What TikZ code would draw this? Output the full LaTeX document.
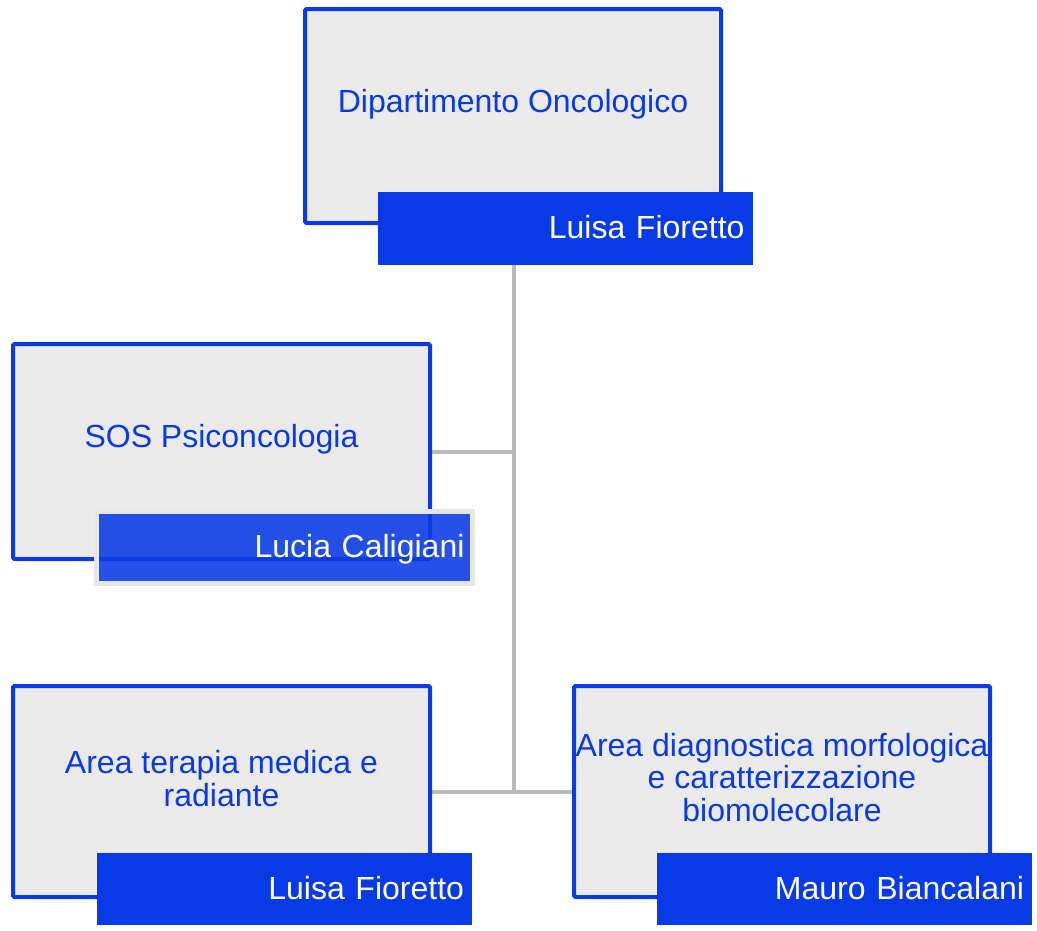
\documentclass[tikz,border=0pt]{standalone}
\usepackage{fontspec}
\setmainfont{Liberation Sans}
\usetikzlibrary{backgrounds}
\definecolor{mblue}{HTML}{0A3AE6}
\definecolor{lblue}{HTML}{083AE7}
\definecolor{boxgrey}{HTML}{EAEAEA}
\definecolor{linegrey}{HTML}{BBBBBB}
\definecolor{edgegrey}{HTML}{E6E6E6}
\begin{document}
\begin{tikzpicture}[x=1pt,y=-1pt,
  unitbox/.style={draw=mblue, fill=boxgrey, line width=4pt, rounded corners=1.5pt,
    inner sep=0pt, minimum width=416pt, minimum height=214pt},
  titletext/.style={text=mblue, font=\fontsize{32}{32.5}\selectfont, align=center,
    inner sep=0pt, anchor=base},
  headlabel/.style={fill=lblue, text=white, font=\fontsize{32}{33}\selectfont,
    inner xsep=8pt, inner ysep=0pt, text width=359pt, align=right,
    minimum height=73pt, text height=21pt, text depth=1pt},
  conn/.style={draw=linegrey, line width=4pt}]
\useasboundingbox (0,0) rectangle (1037,930);

% top unit
\node[unitbox] (dip) at (513,116) {};
\node[titletext] (diptxt) at (513,112) {Dipartimento Oncologico};
\node[headlabel] (dipmgr) at (565,228.5) {Luisa Fioretto};

% SOS Psiconcologia
\node[unitbox, minimum width=417pt, minimum height=215pt] (sos) at (221.5,451.5) {};
\node[titletext] (sostxt) at (221.5,447) {SOS Psiconcologia};
\node[headlabel, fill opacity=0.88, text opacity=1, draw=edgegrey, line width=5pt,
  text width=360pt, minimum height=72pt] (sosmgr) at (284.5,547.5) {Lucia Caligiani};

% Area terapia
\node[unitbox, minimum width=417pt, minimum height=211pt] (atm) at (221.5,791.5) {};
\node[titletext] (atmtxt) at (221.5,806) {Area terapia medica e\\radiante};
\node[headlabel, minimum height=72pt] (atmmgr) at (284.5,889) {Luisa Fioretto};

% Area diagnostica
\node[unitbox, minimum height=211pt] (adm) at (782,791.5) {};
\node[titletext] (admtxt) at (782,821) {Area diagnostica morfologica\\e caratterizzazione\\biomolecolare};
\node[headlabel, minimum height=72pt] (admmgr) at (844.5,889) {Mauro Biancalani};

% connectors
\coordinate (ja) at (514,451.5);
\coordinate (jb) at (514,791.5);
\begin{scope}[on background layer]
  \draw[conn] (ja |- dipmgr.south) -- (jb);
  \draw[conn] (sos.east) -- (ja);
  \draw[conn] (atm.east) -- (adm.west);
\end{scope}
\end{tikzpicture}
\end{document}
